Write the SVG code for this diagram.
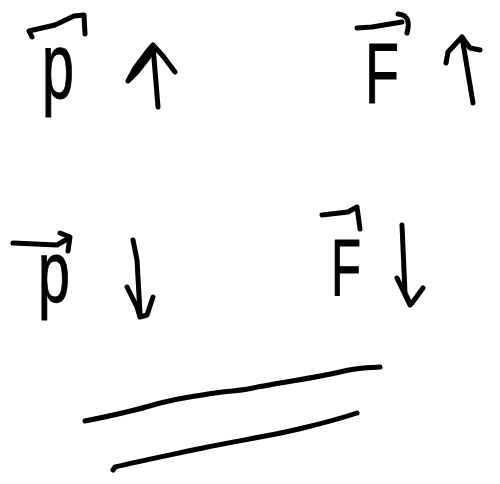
<svg xmlns="http://www.w3.org/2000/svg" width="500" height="484" viewBox="0 0 500 484">
<style>
.s{fill:none;stroke:#000;stroke-width:5;stroke-linecap:round;stroke-linejoin:round}
.t{font-family:"Liberation Sans",Arial,sans-serif;fill:#000;stroke:#000;stroke-width:1;stroke-linejoin:round}
</style>
<rect width="500" height="484" fill="#fff"/>
<g id="p-vec-top">
<path class="s" d="M32,37 L29,31 L55,25 L74,16 L84,15 L85,34"/>
<text class="t" x="42" y="98" font-size="92" textLength="32" lengthAdjust="spacingAndGlyphs">p</text>
</g>
<g id="arrow-up-1">
<path class="s" d="M153,46 L158,107"/>
<path class="s" d="M175,72 L163,56 L153,45 L147,52 L135,68 L128,81 L137,72 L148,58 L153,50"/>
</g>
<g id="F-vec-top">
<path class="s" d="M357,28 L372,27 L402,22"/>
<path class="s" d="M398,14 Q412,15 407,33"/>
<text class="t" x="365" y="103" font-size="85" textLength="34" lengthAdjust="spacingAndGlyphs">F</text>
</g>
<g id="arrow-up-2">
<path class="s" d="M462,37 L473,103"/>
<path class="s" d="M446,63 L448,52 L462,37 L470,48 L480,50"/>
</g>
<g id="p-vec-bottom">
<path class="s" d="M13,243 L57,245 L69,238"/>
<path class="s" d="M60,233 L70,237 L68,251"/>
<text class="t" x="38" y="302" font-size="88" textLength="32" lengthAdjust="spacingAndGlyphs">p</text>
</g>
<g id="arrow-down-1">
<path class="s" d="M133,240 L137,260 L140,313"/>
<path class="s" d="M127,287 L137,307 L140,317 L147,315 L153,297"/>
</g>
<g id="F-vec-bottom">
<path class="s" d="M322,215 L348,212 L357,207 L360,229"/>
<text class="t" x="331" y="295" font-size="80" textLength="30" lengthAdjust="spacingAndGlyphs">F</text>
</g>
<g id="arrow-down-2">
<path class="s" d="M402,225 L405,293 L410,303"/>
<path class="s" d="M397,278 L410,305 L412,303 L423,288"/>
</g>
<g id="equals">
<path class="s" d="M85,421 C110,416 130,412 153,405 S195,396 215,393 S240,391 253,388 S320,377 340,372 S370,368 380,367"/>
<path class="s" d="M113,470 L115,467 C135,462 170,455 203,448 S270,436 303,428 S345,417 357,413"/>
</g>
</svg>
